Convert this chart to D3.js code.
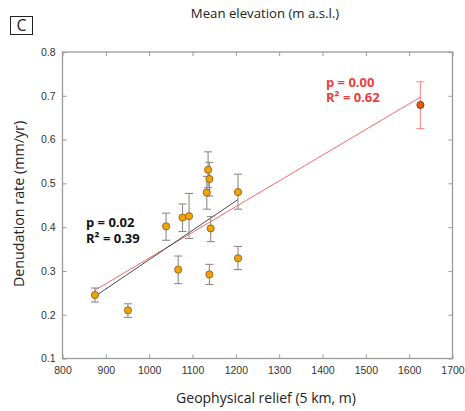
<!DOCTYPE html>
<html>
<head>
	<meta charset="UTF-8">
	<script src="https://cdn.jsdelivr.net/npm/d3@7"></script>
<style>
body { margin: 0; background: #fff; }
svg { font-family: "Open Sans", sans-serif; }
.frame { fill: none; stroke: #9a9a9a; stroke-width: 1.3; }
.tick line { stroke: #9a9a9a; }
.tick text { font-size: 10.5px; fill: #333; }
</style>
</head>
<body>
<div id="chart"></div>
<script>

// geophysical relief (m) and denudation rate (mm/yr), with error bar limits
const relief     = [875, 951, 1039, 1067, 1077, 1092, 1133, 1136, 1139, 1142, 1139, 1205, 1205, 1626];
const denudation = [0.245, 0.210, 0.402, 0.303, 0.422, 0.425, 0.479, 0.531, 0.510, 0.397, 0.292, 0.480, 0.329, 0.679];
const errHigh    = [0.261, 0.225, 0.432, 0.334, 0.453, 0.477, 0.516, 0.572, 0.548, 0.424, 0.315, 0.521, 0.356, 0.732];
const errLow     = [0.229, 0.194, 0.370, 0.271, 0.390, 0.374, 0.441, 0.490, 0.471, 0.367, 0.269, 0.441, 0.303, 0.625];
const highlight  = [false, false, false, false, false, false, false, false, false, false, false, false, false, true];

// regression lines (endpoints)
const fitSubsetX = [875, 1205], fitSubsetY = [0.242, 0.463];
const fitAllX    = [875, 1626], fitAllY    = [0.256, 0.697];

const xTicks = [800, 900, 1000, 1100, 1200, 1300, 1400, 1500, 1600, 1700];
const yTicks = [0.1, 0.2, 0.3, 0.4, 0.5, 0.6, 0.7, 0.8];

const W = 465, H = 411;
const margin = {top: 52, right: 12.5, bottom: 52.5, left: 62.5},
    width = W - margin.left - margin.right,
    height = H - margin.top - margin.bottom;

const x = d3.scaleLinear().domain([800, 1700]).range([0, width]);
const y = d3.scaleLinear().domain([0.1, 0.8]).range([height, 0]);

const root = d3.select("#chart").append("svg")
    .attr("width", W)
    .attr("height", H);

const svg = root.append("g")
    .attr("transform", "translate(" + margin.left + "," + margin.top + ")");

// axes with inward ticks on all four sides
svg.append("g")
    .attr("transform", "translate(0," + height + ")")
    .call(d3.axisBottom(x).tickValues(xTicks).tickSize(-4).tickPadding(8).tickFormat(d3.format("d")))
    .call(g => g.select(".domain").remove());
svg.append("g")
    .call(d3.axisTop(x).tickValues(xTicks).tickSize(-4).tickFormat(""))
    .call(g => g.select(".domain").remove());
svg.append("g")
    .call(d3.axisLeft(y).tickValues(yTicks).tickSize(-4).tickPadding(7).tickFormat(d3.format(".1f")))
    .call(g => g.select(".domain").remove());
svg.append("g")
    .attr("transform", "translate(" + width + ",0)")
    .call(d3.axisRight(y).tickValues(yTicks).tickSize(-4).tickFormat(""))
    .call(g => g.select(".domain").remove());

svg.append("rect").attr("class", "frame")
    .attr("width", width).attr("height", height);

// regression lines
const line = d3.line().x(d => x(d[0])).y(d => y(d[1]));
svg.append("path")
    .attr("d", line(d3.zip(fitAllX, fitAllY)))
    .attr("fill", "none").attr("stroke", "#f26d6d").attr("stroke-width", 1);
svg.append("path")
    .attr("d", line(d3.zip(fitSubsetX, fitSubsetY)))
    .attr("fill", "none").attr("stroke", "#4a4a4a").attr("stroke-width", 1);

const data = relief.map((r, i) => ({x: r, y: denudation[i], lo: errLow[i], hi: errHigh[i], hl: highlight[i]}));

// error bars
const eb = svg.selectAll(".err").data(data).enter().append("g")
    .attr("class", "err")
    .attr("stroke", d => d.hl ? "#f58c8c" : "#8f8a86")
    .attr("stroke-width", 1.1);
eb.append("line")
    .attr("x1", d => x(d.x)).attr("x2", d => x(d.x))
    .attr("y1", d => y(d.lo)).attr("y2", d => y(d.hi));
eb.append("line")
    .attr("x1", d => x(d.x) - 4).attr("x2", d => x(d.x) + 4)
    .attr("y1", d => y(d.hi)).attr("y2", d => y(d.hi));
eb.append("line")
    .attr("x1", d => x(d.x) - 4).attr("x2", d => x(d.x) + 4)
    .attr("y1", d => y(d.lo)).attr("y2", d => y(d.lo));

// points
svg.selectAll(".pt").data(data).enter().append("circle")
    .attr("class", "pt")
    .attr("cx", d => x(d.x))
    .attr("cy", d => y(d.y))
    .attr("r", 3.6)
    .attr("fill", d => d.hl ? "#e8590c" : "#f5a20a")
    .attr("stroke", d => d.hl ? "#5a3a1a" : "#7a5a20")
    .attr("stroke-width", 0.8);

// statistics annotations
const stat = (gx, gy, lines, color) => {
  const t = svg.append("text")
      .attr("x", gx).attr("y", gy)
      .attr("fill", color)
      .style("font-size", "13px").style("font-weight", "bold");
  lines.forEach((s, i) => {
    t.append("tspan").attr("x", gx).attr("dy", i ? 15.5 : 0).text(s);
  });
};
stat(23.5, 175, ["p = 0.02", "R\u00b2 = 0.39"], "#111");
stat(263.5, 34.5, ["p = 0.00", "R\u00b2 = 0.62"], "#ef3b3b");

// titles
root.append("text")
    .attr("x", 265).attr("y", 18)
    .attr("text-anchor", "middle")
    .style("font-size", "13.2px").attr("fill", "#222")
    .text("Mean elevation (m a.s.l.)");
root.append("text")
    .attr("x", 266).attr("y", 403)
    .attr("text-anchor", "middle")
    .style("font-size", "14px").attr("fill", "#222")
    .text("Geophysical relief (5 km, m)");
root.append("text")
    .attr("transform", "translate(24,204) rotate(-90)")
    .attr("text-anchor", "middle")
    .style("font-size", "14.3px").attr("fill", "#222")
    .text("Denudation rate (mm/yr)");

// panel letter
root.append("rect")
    .attr("x", 10.5).attr("y", 16.5).attr("width", 22).attr("height", 18)
    .attr("fill", "none").attr("stroke", "#222").attr("stroke-width", 1);
root.append("text")
    .attr("x", 21.5).attr("y", 31)
    .attr("text-anchor", "middle")
    .style("font-size", "16px").attr("fill", "#222")
    .text("C");

</script>
</body>
</html>
